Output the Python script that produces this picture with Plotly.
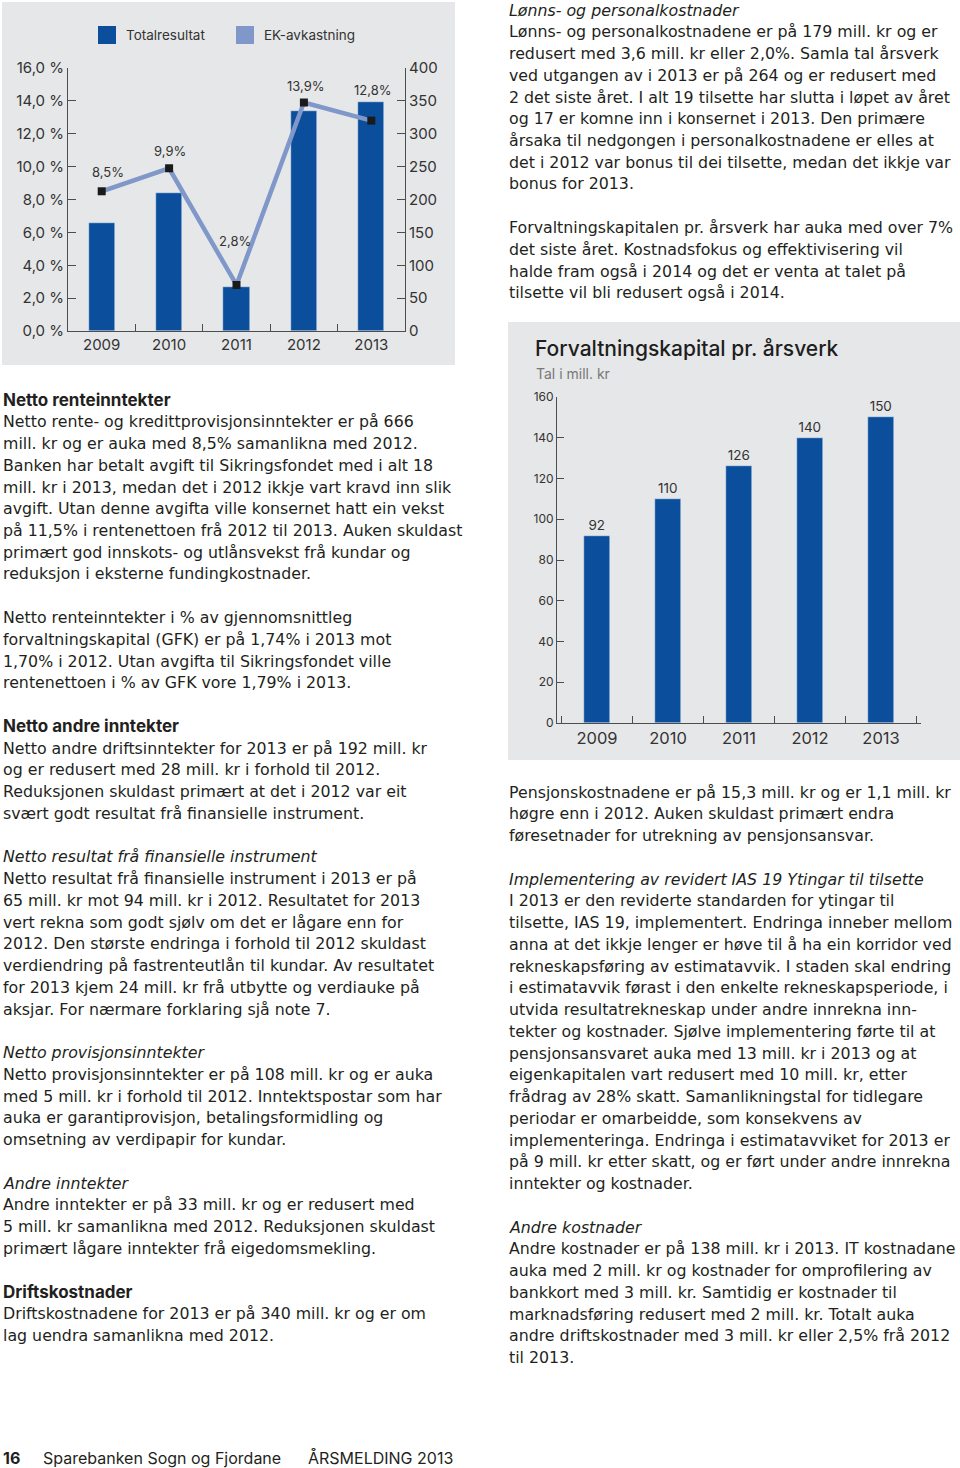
import plotly.graph_objects as go

W, H = 960, 1468

# ---------------- data ----------------
years = ["2009", "2010", "2011", "2012", "2013"]
totalresultat = [164, 210, 67, 335, 348]          # mill. kr (right axis)
ek_avkastning = [8.5, 9.9, 2.8, 13.9, 12.8]       # % (left axis)
ek_labels = ["8,5%", "9,9%", "2,8%", "13,9%", "12,8%"]
pct_tickvals = [0, 2, 4, 6, 8, 10, 12, 14, 16]
pct_ticktext = ["0,0 %", "2,0 %", "4,0 %", "6,0 %", "8,0 %", "10,0 %", "12,0 %", "14,0 %", "16,0 %"]
mill_tickvals = [0, 50, 100, 150, 200, 250, 300, 350, 400]

fk_years = ["2009", "2010", "2011", "2012", "2013"]
fk_values = [92, 110, 126, 140, 150]
fk_tickvals = [0, 20, 40, 60, 80, 100, 120, 140, 160]

# label offsets (style)
ek_label_yshift = [19, 17, 44, 17, 31]
ek_label_xshift = [6, 1, -2, 2, 1]

DARK = "#0b4f9c"
LIGHT = "#7f97c9"
PANEL = "#e6e7e8"
TXT = "#231f20"
FONT = "Inter"
BODY_FONT = "DejaVu Sans"

def px(x):
    return x / W

def py(y):
    return 1 - y / H

fig = go.Figure()

# ---------- chart 1 ----------
fig.add_trace(go.Bar(x=years, y=totalresultat, marker_color=DARK, width=0.39,
                     xaxis="x", yaxis="y", showlegend=False, hoverinfo="skip"))
fig.add_trace(go.Scatter(x=years, y=ek_avkastning, mode="lines+markers",
                         line=dict(color=LIGHT, width=4.5),
                         marker=dict(symbol="square", size=8, color="#1a1a1a"),
                         xaxis="x", yaxis="y2", showlegend=False, hoverinfo="skip"))

# ---------- chart 2 ----------
fig.add_trace(go.Bar(x=fk_years, y=fk_values, marker_color=DARK, width=0.37,
                     text=[str(v) for v in fk_values], textposition="outside",
                     textfont=dict(size=13.5, color="#333333", family=FONT),
                     cliponaxis=False,
                     xaxis="x2", yaxis="y3", showlegend=False, hoverinfo="skip"))

axis_common = dict(showgrid=False, zeroline=False, showline=True, linecolor="#4d4d4d",
                   linewidth=1, ticks="inside", tickcolor="#4d4d4d", fixedrange=True)

layout = dict(
    width=W, height=H, margin=dict(l=0, r=0, t=0, b=0, pad=0, autoexpand=False),
    paper_bgcolor="white", plot_bgcolor="rgba(0,0,0,0)",
    font=dict(family=FONT, color=TXT),
    bargap=0,
    xaxis=dict(domain=[px(68), px(405)], anchor="y", type="category",
               range=[-0.5, 4.5], tickson="boundaries", ticklen=7,
               tickfont=dict(size=15, color="#333333"), **axis_common),
    yaxis=dict(domain=[py(331), py(68)], anchor="x", side="right", range=[0, 400],
               tickvals=mill_tickvals, ticklen=8,
               tickfont=dict(size=15, color="#333333"), **axis_common),
    yaxis2=dict(overlaying="y", anchor="x", side="left", range=[0, 16],
                tickvals=pct_tickvals, ticktext=pct_ticktext, ticklen=8,
                tickfont=dict(size=15, color="#333333"), **axis_common),
    xaxis2=dict(domain=[px(557), px(921)], anchor="y3", type="category",
                range=[-0.563, 4.563], tickson="boundaries", ticklen=7,
                tickfont=dict(size=16.5, color="#333333"), **axis_common),
    yaxis3=dict(domain=[py(723), py(397)], anchor="x2", range=[0, 160],
                tickvals=fk_tickvals, ticklen=7,
                tickfont=dict(size=12, color="#333333"), **axis_common),
)
fig.update_layout(**layout)

shapes = [
    dict(type="rect", xref="paper", yref="paper", x0=px(2), x1=px(455), y0=py(365), y1=py(2),
         fillcolor=PANEL, line_width=0, layer="below"),
    dict(type="rect", xref="paper", yref="paper", x0=px(508), x1=px(960), y0=py(760), y1=py(322),
         fillcolor=PANEL, line_width=0, layer="below"),
    # legend swatches
    dict(type="rect", xref="paper", yref="paper", x0=px(98), x1=px(116), y0=py(44), y1=py(26),
         fillcolor=DARK, line_width=0),
    dict(type="rect", xref="paper", yref="paper", x0=px(236), x1=px(254), y0=py(44), y1=py(26),
         fillcolor=LIGHT, line_width=0),
]

annotations = []
annotations.append(dict(xref="paper", yref="paper", x=px(124), y=py(35), xanchor="left", yanchor="middle",
                        text="Totalresultat", showarrow=False, font=dict(size=13.5, color="#333333")))
annotations.append(dict(xref="paper", yref="paper", x=px(262), y=py(35), xanchor="left", yanchor="middle",
                        text="EK-avkastning", showarrow=False, font=dict(size=13.5, color="#333333")))

for idx, (v, lab, ys, xs) in enumerate(zip(ek_avkastning, ek_labels, ek_label_yshift, ek_label_xshift)):
    annotations.append(dict(xref="x", yref="y2", x=idx, y=v, text=lab, showarrow=False,
                            yshift=ys, xshift=xs, yanchor="middle",
                            font=dict(size=13, color="#333333")))

annotations.append(dict(xref="paper", yref="paper", x=px(533), y=py(348), xanchor="left", yanchor="middle",
                        text="Forvaltningskapital pr. årsverk", showarrow=False,
                        font=dict(size=21, color="#1e1e1e", weight=500)))
annotations.append(dict(xref="paper", yref="paper", x=px(534), y=py(373), xanchor="left", yanchor="middle",
                        text="Tal i mill. kr", showarrow=False,
                        font=dict(size=14, color="#777777")))

# ---------- body text ----------
left_lines = [
    ("b", "Netto renteinntekter"),
    ("n", "Netto rente- og kredittprovisjonsinntekter er på 666"),
    ("n", "mill. kr og er auka med 8,5% samanlikna med 2012."),
    ("n", "Banken har betalt avgift til Sikringsfondet med i alt 18"),
    ("n", "mill. kr i 2013, medan det i 2012 ikkje vart kravd inn slik"),
    ("n", "avgift. Utan denne avgifta ville konsernet hatt ein vekst"),
    ("n", "på 11,5% i rentenettoen frå 2012 til 2013. Auken skuldast"),
    ("n", "primært god innskots- og utlånsvekst frå kundar og"),
    ("n", "reduksjon i eksterne fundingkostnader."),
    (None, ""),
    ("n", "Netto renteinntekter i % av gjennomsnittleg"),
    ("n", "forvaltningskapital (GFK) er på 1,74% i 2013 mot"),
    ("n", "1,70% i 2012. Utan avgifta til Sikringsfondet ville"),
    ("n", "rentenettoen i % av GFK vore 1,79% i 2013."),
    (None, ""),
    ("b", "Netto andre inntekter"),
    ("n", "Netto andre driftsinntekter for 2013 er på 192 mill. kr"),
    ("n", "og er redusert med 28 mill. kr i forhold til 2012."),
    ("n", "Reduksjonen skuldast primært at det i 2012 var eit"),
    ("n", "svært godt resultat frå finansielle instrument."),
    (None, ""),
    ("i", "Netto resultat frå finansielle instrument"),
    ("n", "Netto resultat frå finansielle instrument i 2013 er på"),
    ("n", "65 mill. kr mot 94 mill. kr i 2012. Resultatet for 2013"),
    ("n", "vert rekna som godt sjølv om det er lågare enn for"),
    ("n", "2012. Den største endringa i forhold til 2012 skuldast"),
    ("n", "verdiendring på fastrenteutlån til kundar. Av resultatet"),
    ("n", "for 2013 kjem 24 mill. kr frå utbytte og verdiauke på"),
    ("n", "aksjar. For nærmare forklaring sjå note 7."),
    (None, ""),
    ("i", "Netto provisjonsinntekter"),
    ("n", "Netto provisjonsinntekter er på 108 mill. kr og er auka"),
    ("n", "med 5 mill. kr i forhold til 2012. Inntektspostar som har"),
    ("n", "auka er garantiprovisjon, betalingsformidling og"),
    ("n", "omsetning av verdipapir for kundar."),
    (None, ""),
    ("i", "Andre inntekter"),
    ("n", "Andre inntekter er på 33 mill. kr og er redusert med"),
    ("n", "5 mill. kr samanlikna med 2012. Reduksjonen skuldast"),
    ("n", "primært lågare inntekter frå eigedomsmekling."),
    (None, ""),
    ("b", "Driftskostnader"),
    ("n", "Driftskostnadene for 2013 er på 340 mill. kr og er om"),
    ("n", "lag uendra samanlikna med 2012."),
]

right_top_lines = [
    ("i", "Lønns- og personalkostnader"),
    ("n", "Lønns- og personalkostnadene er på 179 mill. kr og er"),
    ("n", "redusert med 3,6 mill. kr eller 2,0%. Samla tal årsverk"),
    ("n", "ved utgangen av i 2013 er på 264 og er redusert med"),
    ("n", "2 det siste året. I alt 19 tilsette har slutta i løpet av året"),
    ("n", "og 17 er komne inn i konsernet i 2013. Den primære"),
    ("n", "årsaka til nedgongen i personalkostnadene er elles at"),
    ("n", "det i 2012 var bonus til dei tilsette, medan det ikkje var"),
    ("n", "bonus for 2013."),
    (None, ""),
    ("n", "Forvaltningskapitalen pr. årsverk har auka med over 7%"),
    ("n", "det siste året. Kostnadsfokus og effektivisering vil"),
    ("n", "halde fram også i 2014 og det er venta at talet på"),
    ("n", "tilsette vil bli redusert også i 2014."),
]

right_bottom_lines = [
    ("n", "Pensjonskostnadene er på 15,3 mill. kr og er 1,1 mill. kr"),
    ("n", "høgre enn i 2012. Auken skuldast primært endra"),
    ("n", "føresetnader for utrekning av pensjonsansvar."),
    (None, ""),
    ("i", "Implementering av revidert IAS 19 Ytingar til tilsette"),
    ("n", "I 2013 er den reviderte standarden for ytingar til"),
    ("n", "tilsette, IAS 19, implementert. Endringa inneber mellom"),
    ("n", "anna at det ikkje lenger er høve til å ha ein korridor ved"),
    ("n", "rekneskapsføring av estimatavvik. I staden skal endring"),
    ("n", "i estimatavvik førast i den enkelte rekneskapsperiode, i"),
    ("n", "utvida resultatrekneskap under andre innrekna inn-"),
    ("n", "tekter og kostnader. Sjølve implementering førte til at"),
    ("n", "pensjonsansvaret auka med 13 mill. kr i 2013 og at"),
    ("n", "eigenkapitalen vart redusert med 10 mill. kr, etter"),
    ("n", "frådrag av 28% skatt. Samanlikningstal for tidlegare"),
    ("n", "periodar er omarbeidde, som konsekvens av"),
    ("n", "implementeringa. Endringa i estimatavviket for 2013 er"),
    ("n", "på 9 mill. kr etter skatt, og er ført under andre innrekna"),
    ("n", "inntekter og kostnader."),
    (None, ""),
    ("i", "Andre kostnader"),
    ("n", "Andre kostnader er på 138 mill. kr i 2013. IT kostnadane"),
    ("n", "auka med 2 mill. kr og kostnader for omprofilering av"),
    ("n", "bankkort med 3 mill. kr. Samtidig er kostnader til"),
    ("n", "marknadsføring redusert med 2 mill. kr. Totalt auka"),
    ("n", "andre driftskostnader med 3 mill. kr eller 2,5% frå 2012"),
    ("n", "til 2013."),
]

BODY_SIZE = 15.8
STEP = 21.75

def add_block(lines, x0, y0):
    for i, (style, t) in enumerate(lines):
        if style is None:
            continue
        fam = BODY_FONT
        size = BODY_SIZE
        if style == "b":
            t = "<b>" + t + "</b>"
            fam = FONT
            size = 17
        elif style == "i":
            t = "<i>" + t + "</i>"
        annotations.append(dict(xref="paper", yref="paper", x=px(x0), y=py(y0 + i * STEP),
                                xanchor="left", yanchor="middle", text=t, showarrow=False,
                                font=dict(size=size, color=TXT, family=fam)))

add_block(left_lines, 1, 400)
add_block(right_top_lines, 507, 10)
add_block(right_bottom_lines, 507, 792)

# footer
annotations.append(dict(xref="paper", yref="paper", x=px(1), y=py(1458), xanchor="left", yanchor="middle",
                        text="<b>16</b>", showarrow=False, font=dict(size=16, color=TXT)))
annotations.append(dict(xref="paper", yref="paper", x=px(41), y=py(1458), xanchor="left", yanchor="middle",
                        text="Sparebanken Sogn og Fjordane", showarrow=False, font=dict(size=16, color=TXT)))
annotations.append(dict(xref="paper", yref="paper", x=px(306), y=py(1458), xanchor="left", yanchor="middle",
                        text="ÅRSMELDING 2013", showarrow=False, font=dict(size=16, color=TXT)))

fig.update_layout(shapes=shapes, annotations=annotations)
fig.write_html(
    "out.html",
    config={"displayModeBar": False},
    post_script=(
        "document.body.style.margin='0';"
        "document.body.style.overflow='hidden';"
        "var gd=document.getElementById('{plot_id}');"
        "gd.style.position='absolute';gd.style.top='0px';gd.style.left='0px';"
    ),
)
